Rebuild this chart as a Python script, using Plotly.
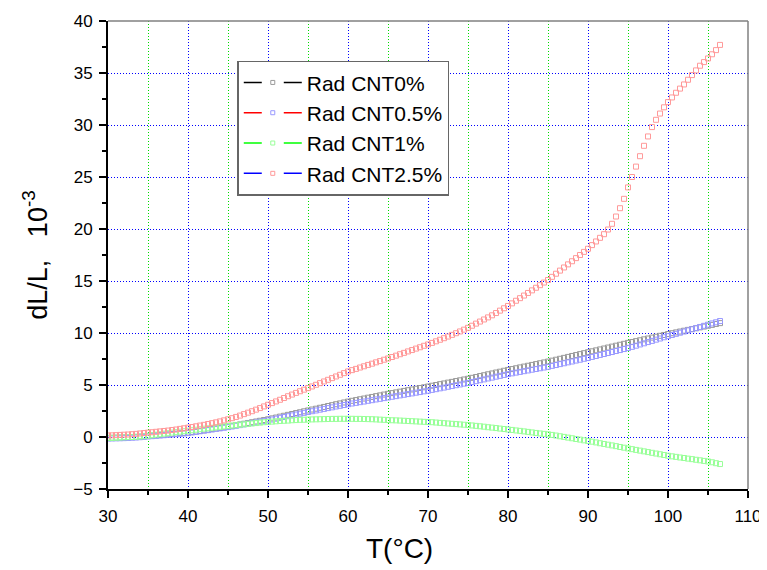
import plotly.graph_objects as go

# Temperature, deg C
temp = [
    30.0, 30.5, 31.0, 31.5, 32.0, 32.5, 33.0, 33.5, 34.0, 34.5,
    35.0, 35.5, 36.0, 36.5, 37.0, 37.5, 38.0, 38.5, 39.0, 39.5,
    40.0, 40.5, 41.0, 41.5, 42.0, 42.5, 43.0, 43.5, 44.0, 44.5,
    45.0, 45.5, 46.0, 46.5, 47.0, 47.5, 48.0, 48.5, 49.0, 49.5,
    50.0, 50.5, 51.0, 51.5, 52.0, 52.5, 53.0, 53.5, 54.0, 54.5,
    55.0, 55.5, 56.0, 56.5, 57.0, 57.5, 58.0, 58.5, 59.0, 59.5,
    60.0, 60.5, 61.0, 61.5, 62.0, 62.5, 63.0, 63.5, 64.0, 64.5,
    65.0, 65.5, 66.0, 66.5, 67.0, 67.5, 68.0, 68.5, 69.0, 69.5,
    70.0, 70.5, 71.0, 71.5, 72.0, 72.5, 73.0, 73.5, 74.0, 74.5,
    75.0, 75.5, 76.0, 76.5, 77.0, 77.5, 78.0, 78.5, 79.0, 79.5,
    80.0, 80.5, 81.0, 81.5, 82.0, 82.5, 83.0, 83.5, 84.0, 84.5,
    85.0, 85.5, 86.0, 86.5, 87.0, 87.5, 88.0, 88.5, 89.0, 89.5,
    90.0, 90.5, 91.0, 91.5, 92.0, 92.5, 93.0, 93.5, 94.0, 94.5,
    95.0, 95.5, 96.0, 96.5, 97.0, 97.5, 98.0, 98.5, 99.0, 99.5,
    100.0, 100.5, 101.0, 101.5, 102.0, 102.5, 103.0, 103.5, 104.0, 104.5,
    105.0, 105.5, 106.0, 106.5,
]

# dL/L, 10^-3
cnt0 = [
    -0.08, -0.07, -0.06, -0.05, -0.04, -0.03, -0.01, 0.01, 0.04, 0.07,
    0.10, 0.13, 0.16, 0.19, 0.22, 0.25, 0.28, 0.32, 0.36, 0.39,
    0.42, 0.47, 0.52, 0.58, 0.64, 0.70, 0.76, 0.82, 0.88, 0.94,
    1.00, 1.07, 1.14, 1.21, 1.28, 1.35, 1.42, 1.49, 1.56, 1.63,
    1.70, 1.79, 1.87, 1.96, 2.04, 2.13, 2.21, 2.30, 2.38, 2.47,
    2.55, 2.64, 2.72, 2.81, 2.89, 2.98, 3.06, 3.15, 3.23, 3.32,
    3.40, 3.48, 3.55, 3.63, 3.70, 3.78, 3.85, 3.93, 4.00, 4.08,
    4.15, 4.22, 4.29, 4.36, 4.43, 4.50, 4.57, 4.64, 4.71, 4.78,
    4.85, 4.93, 5.00, 5.08, 5.15, 5.23, 5.30, 5.38, 5.45, 5.53,
    5.60, 5.69, 5.77, 5.86, 5.94, 6.03, 6.11, 6.20, 6.28, 6.37,
    6.45, 6.53, 6.61, 6.69, 6.77, 6.85, 6.93, 7.01, 7.09, 7.17,
    7.25, 7.34, 7.43, 7.52, 7.61, 7.70, 7.79, 7.88, 7.97, 8.06,
    8.15, 8.24, 8.33, 8.42, 8.51, 8.60, 8.69, 8.78, 8.87, 8.96,
    9.05, 9.13, 9.22, 9.30, 9.39, 9.47, 9.56, 9.64, 9.73, 9.81,
    9.90, 9.98, 10.06, 10.14, 10.22, 10.30, 10.38, 10.46, 10.54, 10.62,
    10.70, 10.78, 10.87, 10.95,
]

cnt05 = [
    -0.15, -0.14, -0.13, -0.12, -0.11, -0.09, -0.07, -0.05, -0.02, 0.01,
    0.05, 0.08, 0.11, 0.14, 0.17, 0.21, 0.25, 0.28, 0.31, 0.34,
    0.38, 0.44, 0.49, 0.55, 0.61, 0.66, 0.72, 0.78, 0.83, 0.89,
    0.95, 1.01, 1.08, 1.14, 1.21, 1.27, 1.34, 1.40, 1.47, 1.53,
    1.60, 1.68, 1.76, 1.84, 1.92, 2.00, 2.08, 2.16, 2.24, 2.32,
    2.40, 2.48, 2.55, 2.63, 2.70, 2.78, 2.85, 2.93, 3.00, 3.08,
    3.15, 3.22, 3.28, 3.35, 3.41, 3.48, 3.54, 3.61, 3.67, 3.74,
    3.80, 3.87, 3.93, 4.00, 4.06, 4.13, 4.19, 4.26, 4.32, 4.39,
    4.45, 4.53, 4.60, 4.68, 4.75, 4.83, 4.90, 4.98, 5.05, 5.13,
    5.20, 5.29, 5.37, 5.46, 5.54, 5.63, 5.71, 5.80, 5.88, 5.97,
    6.05, 6.12, 6.19, 6.26, 6.33, 6.40, 6.47, 6.54, 6.61, 6.68,
    6.75, 6.84, 6.92, 7.01, 7.09, 7.18, 7.26, 7.35, 7.43, 7.52,
    7.60, 7.70, 7.79, 7.89, 7.98, 8.08, 8.17, 8.27, 8.36, 8.46,
    8.55, 8.67, 8.78, 8.90, 9.01, 9.13, 9.24, 9.36, 9.47, 9.59,
    9.70, 9.81, 9.92, 10.03, 10.14, 10.25, 10.36, 10.47, 10.58, 10.69,
    10.80, 10.92, 11.03, 11.15,
]

cnt1 = [
    -0.10, -0.09, -0.07, -0.05, -0.03, -0.01, 0.00, 0.02, 0.05, 0.08,
    0.12, 0.17, 0.22, 0.27, 0.32, 0.37, 0.42, 0.47, 0.51, 0.56,
    0.60, 0.65, 0.70, 0.75, 0.80, 0.84, 0.89, 0.93, 0.98, 1.02,
    1.06, 1.10, 1.14, 1.18, 1.22, 1.26, 1.30, 1.34, 1.38, 1.42,
    1.45, 1.48, 1.51, 1.54, 1.56, 1.58, 1.61, 1.63, 1.65, 1.66,
    1.68, 1.69, 1.70, 1.71, 1.72, 1.73, 1.74, 1.74, 1.75, 1.75,
    1.75, 1.75, 1.74, 1.74, 1.73, 1.72, 1.71, 1.69, 1.67, 1.65,
    1.63, 1.61, 1.60, 1.58, 1.56, 1.54, 1.52, 1.50, 1.48, 1.46,
    1.44, 1.42, 1.39, 1.36, 1.33, 1.30, 1.27, 1.24, 1.21, 1.18,
    1.15, 1.11, 1.07, 1.03, 0.99, 0.94, 0.90, 0.86, 0.81, 0.77,
    0.72, 0.68, 0.63, 0.59, 0.54, 0.49, 0.44, 0.39, 0.34, 0.30,
    0.26, 0.20, 0.14, 0.07, 0.01, -0.06, -0.12, -0.19, -0.25, -0.32,
    -0.38, -0.45, -0.52, -0.60, -0.67, -0.74, -0.81, -0.88, -0.96, -1.03,
    -1.10, -1.17, -1.24, -1.31, -1.38, -1.45, -1.52, -1.59, -1.66, -1.73,
    -1.80, -1.86, -1.91, -1.97, -2.02, -2.08, -2.13, -2.19, -2.24, -2.30,
    -2.35, -2.43, -2.52, -2.60,
]

cnt25 = [
    0.15, 0.16, 0.18, 0.20, 0.22, 0.24, 0.27, 0.30, 0.34, 0.38,
    0.42, 0.46, 0.50, 0.54, 0.58, 0.62, 0.67, 0.72, 0.78, 0.84,
    0.90, 0.96, 1.03, 1.10, 1.17, 1.25, 1.33, 1.41, 1.50, 1.60,
    1.70, 1.81, 1.93, 2.06, 2.20, 2.34, 2.48, 2.63, 2.78, 2.94,
    3.10, 3.26, 3.42, 3.58, 3.75, 3.92, 4.08, 4.24, 4.40, 4.55,
    4.70, 4.86, 5.02, 5.18, 5.34, 5.50, 5.66, 5.82, 5.98, 6.14,
    6.30, 6.43, 6.55, 6.68, 6.80, 6.93, 7.05, 7.18, 7.30, 7.43,
    7.55, 7.69, 7.82, 7.96, 8.09, 8.23, 8.36, 8.50, 8.63, 8.77,
    8.90, 9.05, 9.20, 9.35, 9.50, 9.66, 9.82, 9.98, 10.15, 10.32,
    10.50, 10.70, 10.90, 11.10, 11.30, 11.50, 11.70, 11.92, 12.15, 12.38,
    12.60, 12.85, 13.10, 13.35, 13.60, 13.85, 14.10, 14.35, 14.60, 14.85,
    15.10, 15.40, 15.70, 16.00, 16.30, 16.60, 16.90, 17.20, 17.50, 17.80,
    18.10, 18.45, 18.80, 19.15, 19.50, 19.95, 20.50, 21.20, 22.00, 22.90,
    24.00, 25.00, 26.00, 27.00, 28.00, 28.90, 29.80, 30.50, 31.10, 31.70,
    32.20, 32.65, 33.10, 33.50, 33.90, 34.35, 34.80, 35.25, 35.70, 36.05,
    36.40, 36.80, 37.20, 37.70,
]

names = ['Rad CNT0%', 'Rad CNT0.5%', 'Rad CNT1%', 'Rad CNT2.5%']
series = [cnt0, cnt05, cnt1, cnt25]
marker_colors = ['#9a9a9a', '#9999ff', '#99ff99', '#ff9999']
legend_line_colors = ['#000000', '#ff0000', '#00ff00', '#0000ff']

font = 'Liberation Sans, Arial, sans-serif'

fig = go.Figure()

# data markers
for name, vals, mc in zip(names, series, marker_colors):
    fig.add_trace(go.Scatter(
        x=temp, y=vals, mode='markers', name=name, showlegend=False,
        marker=dict(symbol='square-open', size=5, color=mc, line=dict(width=1, color=mc))
    ))

# legend entries (line colours differ from marker colours in the original)
for name, mc, lc in zip(names, marker_colors, legend_line_colors):
    fig.add_trace(go.Scatter(
        x=[None], y=[None], mode='lines+markers', name=name,
        line=dict(color=lc, width=1.5, dash='18px,22px'),
        marker=dict(symbol='square', size=4, color='white', line=dict(width=1, color=mc))
    ))

axis_common = dict(
    showline=True, linecolor='black', linewidth=2,
    ticks='outside', ticklen=7, tickwidth=2, tickcolor='black',
    tickfont=dict(family=font, size=17, color='black'),
    showgrid=True, gridcolor='#0000ff', gridwidth=1, griddash='1px,2px',
    zeroline=False, mirror=False,
)

fig.update_xaxes(
    **axis_common,
    range=[30, 110], dtick=10, tick0=30, ticklabelstandoff=4,
    minor=dict(dtick=5, ticks='outside', ticklen=4, tickwidth=2, tickcolor='black',
               showgrid=True, gridcolor='#00dd00', gridwidth=1, griddash='1px,2px'),
)
fig.update_yaxes(
    **axis_common,
    range=[-5, 40], dtick=5, tick0=0, ticklabelstandoff=3,
    minor=dict(dtick=2.5, ticks='outside', ticklen=4, tickwidth=2, tickcolor='black', showgrid=False),
    title=dict(text='dL/L,\u00a0\u00a0 10<sup>-3</sup>', font=dict(family=font, size=27, color='black'), standoff=18),
)

# x title sits left of centre in the original
fig.add_annotation(
    text='T(°C)', xref='paper', yref='paper', x=0.455, y=-0.128,
    xanchor='center', yanchor='middle', showarrow=False,
    font=dict(family=font, size=28, color='black'),
)

# grey top / right frame
fig.add_shape(type='line', xref='paper', yref='paper', x0=0, x1=1, y0=1, y1=1,
              line=dict(color='#808080', width=1.5))
fig.add_shape(type='line', xref='paper', yref='paper', x0=1, x1=1, y0=0, y1=1,
              line=dict(color='#808080', width=1.5))

# plot box 640 x 468 px so grid lines land on whole pixels
fig.update_layout(
    width=767, height=570,
    margin=dict(l=100, r=27, t=13, b=89, autoexpand=False),
    paper_bgcolor='white', plot_bgcolor='white',
    font=dict(family=font, color='black'),
    legend=dict(
        x=0.202, y=0.915, xanchor='left', yanchor='top',
        bgcolor='white', bordercolor='#666666', borderwidth=1.5,
        font=dict(family=font, size=21, color='black'),
        itemwidth=58, tracegroupgap=0,
    ),
)

fig.write_html("out.html")
